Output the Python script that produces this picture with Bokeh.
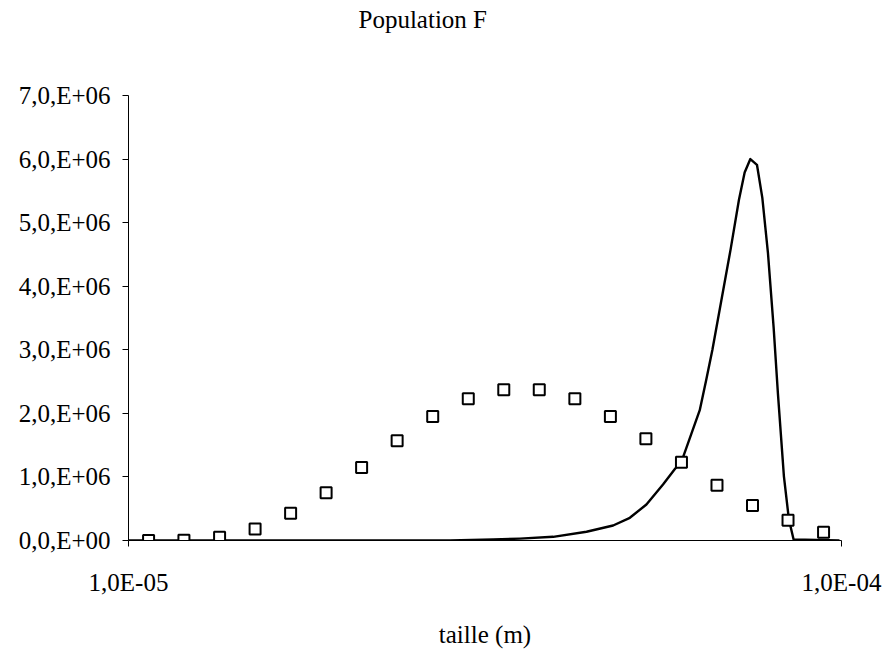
from bokeh.plotting import figure
from bokeh.models import Range1d, FixedTicker, ColumnDataSource, Title
from bokeh.embed import file_html
from bokeh.resources import INLINE

title_text = "Population F"
x_label = "taille (m)"

x_ticks = [1e-5, 1e-4]
x_tick_labels = ["1,0E-05", "1,0E-04"]
y_ticks = [0, 1e6, 2e6, 3e6, 4e6, 5e6, 6e6, 7e6]
y_tick_labels = ["0,0,E+00", "1,0,E+06", "2,0,E+06", "3,0,E+06",
                 "4,0,E+06", "5,0,E+06", "6,0,E+06", "7,0,E+06"]

# square markers
marker_x = [1.067e-5, 1.196e-5, 1.342e-5, 1.505e-5, 1.688e-5, 1.893e-5, 2.123e-5,
            2.381e-5, 2.671e-5, 2.996e-5, 3.360e-5, 3.768e-5, 4.227e-5, 4.741e-5,
            5.317e-5, 5.964e-5, 6.689e-5, 7.502e-5, 8.414e-5, 9.437e-5]
marker_y = [0.0, 0.005e6, 0.05e6, 0.18e6, 0.43e6, 0.75e6, 1.15e6, 1.57e6, 1.95e6,
            2.23e6, 2.37e6, 2.37e6, 2.23e6, 1.95e6, 1.60e6, 1.23e6, 0.87e6, 0.55e6,
            0.32e6, 0.13e6]

# solid curve
curve_x = [1.000e-5, 2.825e-5, 3.248e-5, 3.540e-5, 3.941e-5, 4.389e-5, 4.783e-5,
           5.048e-5, 5.326e-5, 5.619e-5, 5.835e-5, 5.968e-5, 6.145e-5, 6.327e-5,
           6.459e-5, 6.591e-5, 6.990e-5, 7.181e-5, 7.314e-5, 7.450e-5, 7.611e-5,
           7.744e-5, 7.885e-5, 8.032e-5, 8.144e-5, 8.303e-5, 8.438e-5, 8.567e-5,
           9.936e-5]
curve_y = [0.0, 0.0, 0.016e6, 0.03e6, 0.058e6, 0.137e6, 0.236e6,
           0.357e6, 0.566e6, 0.881e6, 1.12e6, 1.25e6, 1.65e6, 2.05e6,
           2.52e6, 3.0e6, 4.58e6, 5.36e6, 5.79e6, 6.0e6, 5.91e6,
           5.39e6, 4.53e6, 3.35e6, 2.31e6, 1.01e6, 0.33e6, 0.016e6,
           0.0]

FONT = "Liberation Serif"
FS = "25px"

p = figure(width=885, height=650, x_axis_type="log",
           x_range=Range1d(1e-5, 1e-4), y_range=Range1d(0, 7e6),
           output_backend="svg", toolbar_location=None,
           min_border_left=128, min_border_right=44,
           min_border_top=95, min_border_bottom=109)

p.outline_line_color = None
p.xgrid.visible = False
p.ygrid.visible = False
p.background_fill_color = "white"
p.border_fill_color = "white"

# spacer panel between the frame and the title (closest to the frame)
p.add_layout(Title(text=" ", text_font_size="1px", standoff=60), "above")
# chart title
p.add_layout(Title(text=title_text, text_font=FONT, text_font_size=FS,
                   text_font_style="normal", text_color="black",
                   align="left", offset=230, standoff=0), "above")

src_m = ColumnDataSource(dict(x=marker_x, y=marker_y))
src_c = ColumnDataSource(dict(x=curve_x, y=curve_y))

p.line("x", "y", source=src_c, line_color="black", line_width=2.4,
       line_join="round")
p.scatter("x", "y", source=src_m, marker="square", size=11,
          fill_color="white", line_color="black", line_width=2)

xa = p.xaxis[0]
xa.ticker = FixedTicker(ticks=x_ticks, minor_ticks=[])
xa.major_label_overrides = {t: l for t, l in zip(x_ticks, x_tick_labels)}
xa.axis_label = x_label
ya = p.yaxis[0]
ya.ticker = FixedTicker(ticks=y_ticks, minor_ticks=[])
ya.major_label_overrides = {t: l for t, l in zip(y_ticks, y_tick_labels)}

for ax in (xa, ya):
    ax.axis_line_color = "black"
    ax.axis_line_width = 1
    ax.major_tick_line_color = "black"
    ax.major_tick_out = 6
    ax.major_tick_in = 0
    ax.minor_tick_out = 0
    ax.minor_tick_in = 0
    ax.major_label_text_font = FONT
    ax.major_label_text_font_size = FS
    ax.major_label_text_color = "black"
    ax.axis_label_text_font = FONT
    ax.axis_label_text_font_size = FS
    ax.axis_label_text_font_style = "normal"
    ax.axis_label_text_color = "black"

xa.major_label_standoff = 22
xa.axis_label_standoff = 22
ya.major_label_standoff = 12

open("out.html", "w").write(file_html(p, INLINE))
